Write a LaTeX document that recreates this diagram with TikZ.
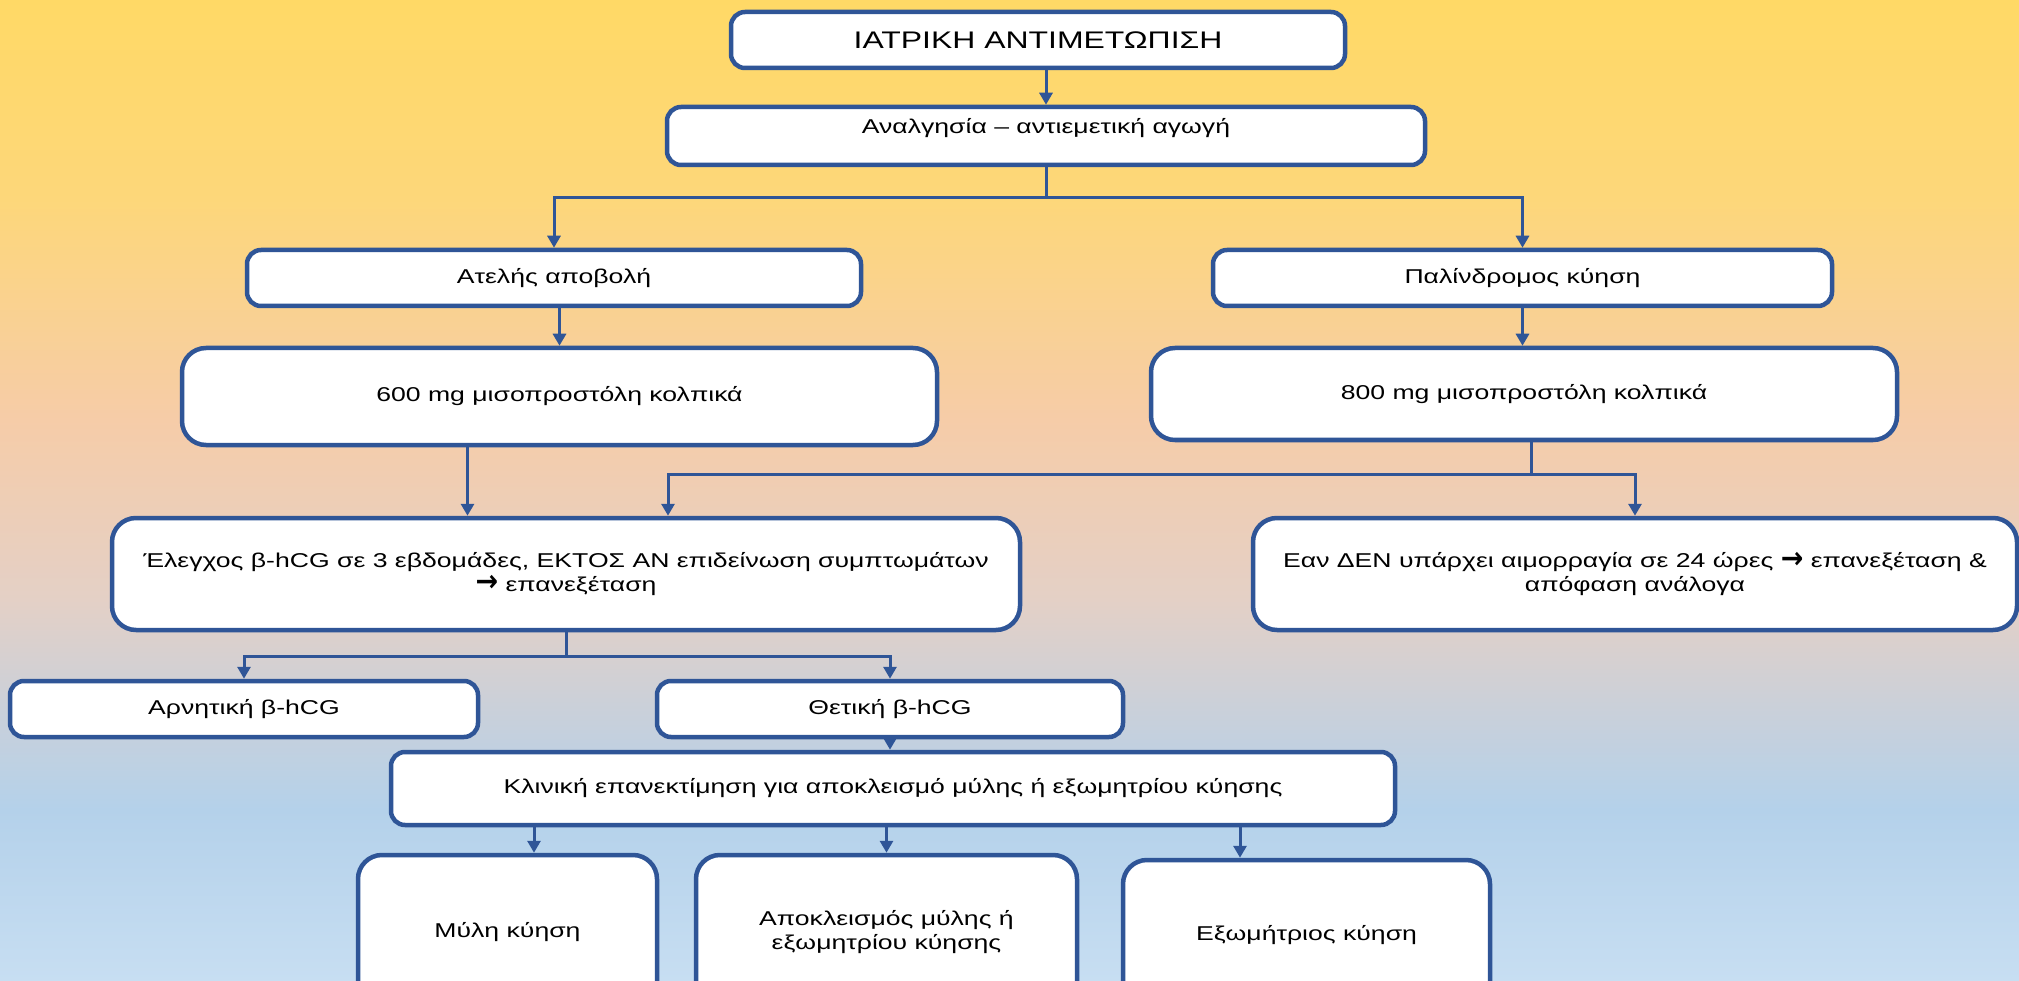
\documentclass[tikz,border=0pt]{standalone}
\usepackage{fontspec}
\setmainfont{Liberation Sans}[FakeStretch=1.33]
\newfontfamily\arrowfont{DejaVu Sans}
\newcommand{\rarr}{\raisebox{-0.5pt}{\scalebox{1.35}[1.5]{\arrowfont\bfseries →}}}
\usetikzlibrary{arrows.meta}

\definecolor{navy}{RGB}{47,85,151}
\definecolor{bgA}{RGB}{255,217,102}
\definecolor{bgB}{RGB}{253,215,122}
\definecolor{bgC}{RGB}{246,204,168}
\definecolor{bgD}{RGB}{228,208,198}
\definecolor{bgE}{RGB}{204,208,216}
\definecolor{bgF}{RGB}{180,209,234}
\definecolor{bgG}{RGB}{199,222,242}

\begin{document}
\begin{tikzpicture}[x=1pt,y=-1pt,
  box/.style={draw=navy, line width=4.5pt, fill=white, rounded corners=14pt,
    inner sep=0pt, align=center, text=black, font=\fontsize{20}{24}\selectfont},
  bigbox/.style={box, rounded corners=24pt},
  link/.style={draw=navy, line width=3pt},
  arr/.style={link, -{Triangle[width=13pt,length=12pt]}}]

\useasboundingbox (0,0) rectangle (2019,981);
\clip (0,0) rectangle (2019,981);

% background bands
\shade[top color=bgA, bottom color=bgB] (0,0) rectangle (2019,200);
\shade[top color=bgB, bottom color=bgC] (0,199) rectangle (2019,420);
\shade[top color=bgC, bottom color=bgD] (0,419) rectangle (2019,600);
\shade[top color=bgD, bottom color=bgE] (0,599) rectangle (2019,700);
\shade[top color=bgE, bottom color=bgF] (0,699) rectangle (2019,810);
\shade[top color=bgF, bottom color=bgG] (0,809) rectangle (2019,981);

% boxes
\node[box, minimum width=614pt, minimum height=56pt, font=\fontsize{24}{28}\selectfont]
  (top) at (1038,40) {ΙΑΤΡΙΚΗ ΑΝΤΙΜΕΤΩΠΙΣΗ};
\node[box, minimum width=758pt, minimum height=58pt, text depth=20pt]
  (analg) at (1046,136) {Αναλγησία – αντιεμετική αγωγή};
\node[box, minimum width=614pt, minimum height=56pt]
  (atel) at (554,278) {Ατελής αποβολή};
\node[box, minimum width=619pt, minimum height=56pt]
  (palin) at (1522.5,278) {Παλίνδρομος κύηση};
\node[bigbox, minimum width=755pt, minimum height=97pt]
  (m600) at (559.5,396.5) {600 mg μισοπροστόλη κολπικά};
\node[bigbox, minimum width=746pt, minimum height=92pt]
  (m800) at (1524,394) {800 mg μισοπροστόλη κολπικά};
\node[bigbox, minimum width=908pt, minimum height=112pt]
  (elegx) at (566,574) {Έλεγχος β-hCG σε 3 εβδομάδες, ΕΚΤΟΣ ΑΝ επιδείνωση συμπτωμάτων\\ \rarr{} επανεξέταση};
\node[bigbox, minimum width=764pt, minimum height=112pt]
  (ean) at (1635,574) {Εαν ΔΕΝ υπάρχει αιμορραγία σε 24 ώρες \rarr{} επανεξέταση \&\\ απόφαση ανάλογα};
\node[box, minimum width=468pt, minimum height=56pt]
  (arn) at (244,709) {Αρνητική β-hCG};
\node[box, minimum width=466pt, minimum height=56pt]
  (thet) at (890,709) {Θετική β-hCG};
\node[box, minimum width=1004pt, minimum height=73pt]
  (klin) at (893,788.5) {Κλινική επανεκτίμηση για αποκλεισμό μύλης ή εξωμητρίου κύησης};
\node[bigbox, minimum width=299pt, minimum height=155pt]
  (myli) at (507.5,932.5) {Μύλη κύηση};
\node[bigbox, minimum width=381pt, minimum height=155pt]
  (apok) at (886.5,932.5) {Αποκλεισμός μύλης ή\\ εξωμητρίου κύησης};
\node[bigbox, minimum width=367pt, minimum height=150pt]
  (exom) at (1306.5,935) {Εξωμήτριος κύηση};

% connectors
\draw[arr] (analg.north |- top.south) -- (analg.north);

\draw[link] (analg.south) -- ++(0,30) coordinate (j1);
\draw[arr] (j1) -| (atel.north);
\draw[arr] (j1) -| (palin.north);

\draw[arr] (m600.north |- atel.south) -- (m600.north);
\draw[arr] (palin.south) -- (palin.south |- m800.north);

\draw[arr] ([xshift=-92pt]m600.south) -- ([xshift=-92pt]m600.south |- elegx.north);

\draw[link] ([xshift=7pt]m800.south) -- ++(0,32) coordinate (j2);
\draw[arr] (j2) -| (ean.north);
\draw[arr] (j2) -| ([xshift=102pt]elegx.north);

\draw[link] (elegx.south) -- ++(0,24) coordinate (j3);
\draw[arr] (j3) -| (arn.north);
\draw[arr] (j3) -| (thet.north);

\draw[arr] (thet.south) -- (thet.south |- klin.north);

\draw[arr] ([xshift=-359pt]klin.south) -- ([xshift=-359pt]klin.south |- myli.north);
\draw[arr] (klin.south -| apok.north) -- (apok.north);
\draw[arr] ([xshift=347pt]klin.south) -- ([xshift=347pt]klin.south |- exom.north);
\end{tikzpicture}
\end{document}
